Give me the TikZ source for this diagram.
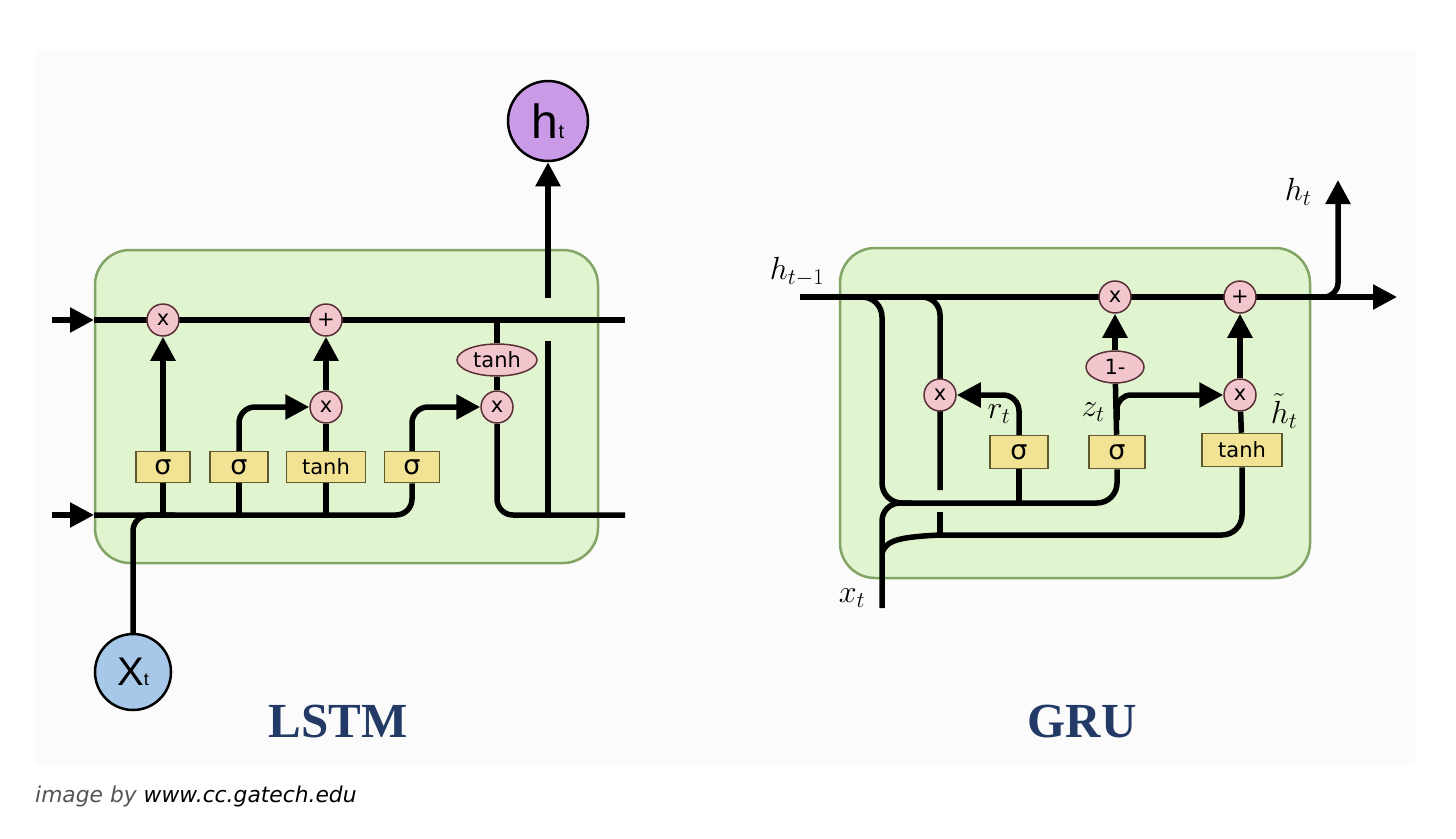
\RequirePackage{fix-cm}
\documentclass[tikz,border=0pt]{standalone}
\usepackage{fontspec}
\usetikzlibrary{arrows.meta,shapes.geometric}
\newfontfamily\sansf{DejaVu Sans}
\newfontfamily\circf{Liberation Sans}
\newfontfamily\titlef{Liberation Serif}
\definecolor{panel}{HTML}{FBFBFB}
\definecolor{cellgreen}{HTML}{DFF4CF}
\definecolor{cellborder}{HTML}{82A465}
\definecolor{oppink}{HTML}{F3C6CE}
\definecolor{opborder}{HTML}{5A3038}
\definecolor{gateyellow}{HTML}{F2E394}
\definecolor{gateborder}{HTML}{5E5A30}
\definecolor{hlilac}{HTML}{C99AE6}
\definecolor{xblue}{HTML}{A7C8E8}
\definecolor{navy}{HTML}{233A66}
\definecolor{capgray}{HTML}{555555}
\pgfdeclarelayer{bg}
\pgfdeclarelayer{wires}
\pgfsetlayers{bg,wires,main}
\tikzset{
  cellbox/.style={draw=cellborder, fill=cellgreen, line width=2.5pt, rounded corners=35pt},
  wire/.style={line width=5.5pt, black},
  arr/.style={wire, -{Triangle[length=24pt,width=24pt]}},
  op/.style={circle, draw=opborder, fill=oppink, line width=1.5pt, minimum size=32pt, inner sep=0pt, font=\sansf\fontsize{21}{21}\selectfont},
  opell/.style={ellipse, draw=opborder, fill=oppink, line width=1.5pt, minimum height=32pt, inner sep=0pt, font=\sansf\fontsize{21}{21}\selectfont},
  gate/.style={rectangle, draw=gateborder, fill=gateyellow, line width=1.5pt, minimum height=31pt, inner sep=0pt, font=\sansf\fontsize{21}{21}\selectfont},
  sig/.style={font=\sansf\fontsize{27}{27}\selectfont},
  mlabel/.style={font=\fontsize{32}{32}\selectfont, inner sep=0pt},
  title/.style={font=\titlef\bfseries\fontsize{49}{49}\selectfont, text=navy, inner sep=0pt},
}
\begin{document}
\begin{tikzpicture}[x=1pt,y=-1pt]
\useasboundingbox (0,0) rectangle (1456,838);
\begin{pgfonlayer}{bg}
\fill[panel] (35,50) rectangle (1415,765);
\draw[cellbox] (95,250) rectangle (598,563);
\draw[cellbox] (840,248) rectangle (1310,578);
\end{pgfonlayer}

%%%%%%%%%%%%%%%% LSTM %%%%%%%%%%%%%%%%
\node[op] (fx) at (163,320) {x};
\node[op] (ip) at (326,320) {+};
\node[op] (mx) at (326,407) {x};
\node[op] (ox) at (497,407) {x};
\node[opell, minimum width=80pt] (th) at (497,360) {tanh};
\node[gate, sig, minimum width=54pt] (g1) at (163,467) {σ};
\node[gate, sig, minimum width=58pt] (g2) at (239,467) {σ};
\node[gate, minimum width=79pt] (g3) at (326,467) {tanh};
\node[gate, sig, minimum width=55pt] (g4) at (412,467) {σ};
\node[circle, draw=black, line width=2.5pt, fill=hlilac, minimum size=80pt, inner sep=0pt] (ht) at (548,121) {\circf\fontsize{48}{48}\selectfont h\fontsize{20}{20}\selectfont t};
\node[circle, draw=black, line width=2.5pt, fill=xblue, minimum size=76pt, inner sep=0pt] (xt) at (133,672) {\circf\fontsize{40}{40}\selectfont X\fontsize{18}{18}\selectfont t};

\coordinate (cinL) at (52,320);
\coordinate (cin) at (94,320);
\coordinate (cR) at (625,320);
\coordinate (hinL) at (52,515);
\coordinate (hin) at (94,515);
\coordinate (hR) at (625,515);
\coordinate (vb) at (548,515);
\coordinate (vm) at (548,341);
\coordinate (vt) at (548,298);
\coordinate (xj) at (175,515);

\begin{pgfonlayer}{wires}
\draw[arr] (cinL) -- (cin);
\draw[wire] (cin) -- (cR);
\draw[arr] (hinL) -- (hin);
\draw[wire, rounded corners=16pt] (hin) -| (g4.south);
\draw[wire, rounded corners=16pt] (ox.south) |- (hR);
\draw[wire] (g1.south) -- (g1.south |- hin);
\draw[wire] (g2.south) -- (g2.south |- hin);
\draw[wire] (g3.south) -- (g3.south |- hin);
\draw[arr] (g1) -- (fx);
\draw[arr, rounded corners=16pt] (g2.north) |- (mx);
\draw[wire] (g3) -- (mx);
\draw[arr] (mx) -- (ip);
\draw[arr, rounded corners=16pt] (g4.north) |- (ox);
\draw[wire] (ox) -- (th);
\draw[wire] (th) -- (th.north |- cin);
\draw[wire] (vb) -- (vm);
\draw[arr] (vt) -- (ht);
\draw[wire, rounded corners=16pt] (xt) |- (xj);
\end{pgfonlayer}

\node[title] (lstm) at (338,722) {LSTM};

%%%%%%%%%%%%%%%% GRU %%%%%%%%%%%%%%%%
\node[op] (rx) at (940,395) {x};
\node[op] (zx) at (1115,297) {x};
\node[op] (pl) at (1240,297) {+};
\node[op] (hx) at (1240,395) {x};
\node[opell, minimum width=58pt] (om) at (1115,367) {1-};
\node[gate, sig, minimum width=58pt, minimum height=33pt] (sr) at (1019,452) {σ};
\node[gate, sig, minimum width=56pt, minimum height=33pt] (sz) at (1117,452) {σ};
\node[gate, minimum width=80pt, minimum height=33pt] (tg) at (1242,450) {tanh};

\node[mlabel] (lhm) at (797,272) {$h_{t-1}$};
\node[mlabel] (lht) at (1298,192) {$h_t$};
\node[mlabel] (lrt) at (999,414) {$r_t$};
\node[mlabel] (lzt) at (1093,412) {$z_t$};
\node[mlabel] (lhtt) at (1284,411) {$\tilde{h}_t$};
\node[mlabel] (lxt) at (852,598) {$x_t$};

\coordinate (gL) at (800,297);
\coordinate (gR) at (1397,297);
\coordinate (oa) at (1316,297);
\coordinate (ob) at (1338,180);
\coordinate (la) at (860,297);
\coordinate (lb) at (882,503);
\coordinate (ra) at (918,297);
\coordinate (rb) at (940,490);
\coordinate (rc) at (940,512);
\coordinate (rd) at (940,535);
\coordinate (xb) at (882,608);
\coordinate (xm) at (912,503);
\coordinate (xs) at (882,553);
\coordinate (zb) at (1117,420);

\begin{pgfonlayer}{wires}
\draw[arr] (gL) -- (gR);
\draw[arr, rounded corners=14pt] (oa) -| (ob);
\draw[wire, rounded corners=20pt] (la) -| (lb) -| (sz.south);
\draw[wire, rounded corners=18pt] (ra) -| (rb);
\draw[wire] (rc) -- (rd);
\draw[wire] (sr.south) -- (sr.south |- lb);
\draw[arr, rounded corners=16pt] (sr.north) |- (rx);
\draw[wire] (sz) -- (om);
\draw[arr] (om) -- (zx);
\draw[arr, rounded corners=14pt] (zb) |- (hx);
\draw[arr] (hx) -- (pl);
\draw[wire] (tg) -- (hx);
\draw[wire, rounded corners=18pt] (xb) |- (xm);
\draw[wire] (xs) .. controls (886,540) and (900,537) .. (rd);
\draw[wire, rounded corners=20pt] (rd) -| (tg.south);
\end{pgfonlayer}

\node[title] (gru) at (1082,722) {GRU};

\node[anchor=west, inner sep=0pt, font=\sansf\itshape\fontsize{21.8}{22}\selectfont] (cap) at (35,796) {\textcolor{capgray}{image by} www.cc.gatech.edu};
\end{tikzpicture}
\end{document}
